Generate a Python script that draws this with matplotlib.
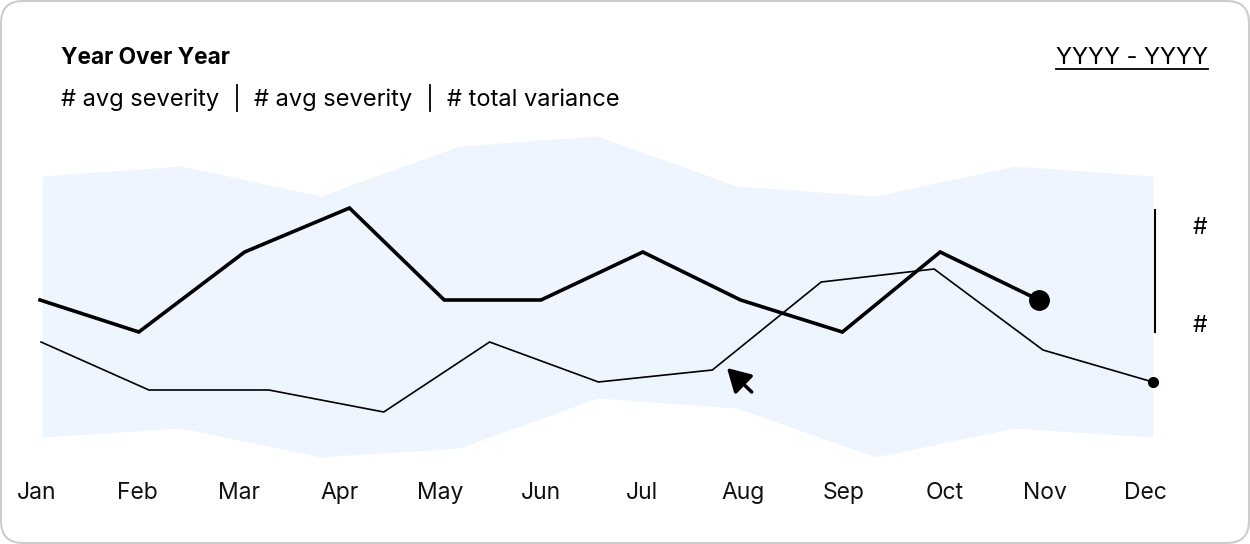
import numpy as np
import matplotlib
matplotlib.use("Agg")
import matplotlib.pyplot as plt
from matplotlib.patches import FancyBboxPatch
from matplotlib.lines import Line2D

plt.rcParams['font.family'] = ['Inter', 'DejaVu Sans']

# data (months: Jan = 0 ... Dec = 11)
months = ['Jan', 'Feb', 'Mar', 'Apr', 'May', 'Jun',
          'Jul', 'Aug', 'Sep', 'Oct', 'Nov', 'Dec']

band_x = [0.05, 1.43, 2.81, 4.19, 5.56, 6.94, 8.32, 9.70, 11.07]
band_hi = [81, 83.5, 76, 88.5, 91, 78.5, 76, 83.5, 81]
band_lo = [15.75, 18, 10.75, 13, 25.5, 23, 10.75, 18, 15.75]

cur_x = [0.03, 1.01, 2.06, 3.10, 4.04, 5.0, 6.01, 6.98, 7.99, 8.96, 9.94]
cur_y = [50, 42, 62, 73, 50, 50, 62, 50, 42, 62, 50]

prev_x = [0.04, 1.11, 2.30, 3.44, 4.49, 5.57, 6.70, 7.78, 8.90, 9.98, 11.07]
prev_y = [39.5, 27.5, 27.5, 22, 39.5, 29.5, 32.5, 54.5, 57.75, 37.5, 29.5]

range_top = 72.5
range_bottom = 42

W, H = 12.5, 5.44
fig = plt.figure(figsize=(W, H), dpi=100)

# card
card = FancyBboxPatch((0.01, 0.01), W - 0.02, H - 0.02,
                      boxstyle="round,pad=0,rounding_size=0.22",
                      transform=fig.dpi_scale_trans,
                      facecolor='white', edgecolor='#cccccc', linewidth=1.5,
                      zorder=-10)
fig.add_artist(card)

ax = fig.add_axes([0, 84 / 544, 1, 340 / 544])
ax.patch.set_alpha(0)
ax.set_xlim(-37 / 100.8, (1250 - 37) / 100.8)
ax.set_ylim(10, 95)
for s in ax.spines.values():
    s.set_visible(False)
ax.set_yticks([])
ax.set_xticks(range(len(months)))
ax.set_xticklabels(months, fontsize=16.5, color='#111111')
ax.tick_params(axis='x', length=0, pad=15.5)

ax.fill_between(band_x, band_lo, band_hi, color='#eef5fe', lw=0)
ax.plot(prev_x, prev_y, color='black', lw=1.2, solid_joinstyle='miter')
ax.plot(prev_x[-1], prev_y[-1], 'o', color='black', ms=7)
ax.plot(cur_x, cur_y, color='black', lw=2.6, solid_joinstyle='miter')
ax.plot(cur_x[-1], cur_y[-1], 'o', color='black', ms=14)

# range bracket on the right
ax.plot([11.09, 11.09], [range_bottom, range_top], color='black', lw=1.5,
        clip_on=False)
ax.text(11.54, 68.0, '#', fontsize=16.5, ha='center', va='center')
ax.text(11.54, 43.5, '#', fontsize=16.5, ha='center', va='center')

# cursor
ax.annotate('', xy=(6.845, 33), xytext=(7.09, 27),
            arrowprops=dict(arrowstyle='-|>,head_length=0.7,head_width=0.4',
                            color='black', lw=2.5, mutation_scale=20,
                            shrinkA=0, shrinkB=0))

# header
fig.text(61 / 1250, 1 - 58 / 544, 'Year Over Year', fontsize=16.3,
         fontweight='bold', va='center', ha='left')
subs = ['# avg severity', '# avg severity', '# total variance']
sub_x = [61, 254, 447]
for s, x in zip(subs, sub_x):
    fig.text(x / 1250, 1 - 100 / 544, s, fontsize=17, va='center', ha='left')
for x in [237, 430]:
    fig.add_artist(Line2D([x / 1250, x / 1250], [1 - 85 / 544, 1 - 111 / 544],
                          color='black', lw=1.3))

fig.text(1208 / 1250, 1 - 58 / 544, 'YYYY - YYYY', fontsize=17,
         va='center', ha='right')
fig.add_artist(Line2D([1056 / 1250, 1208 / 1250], [1 - 69 / 544, 1 - 69 / 544],
                      color='black', lw=1.3))

fig.savefig('out.png', dpi=100)
